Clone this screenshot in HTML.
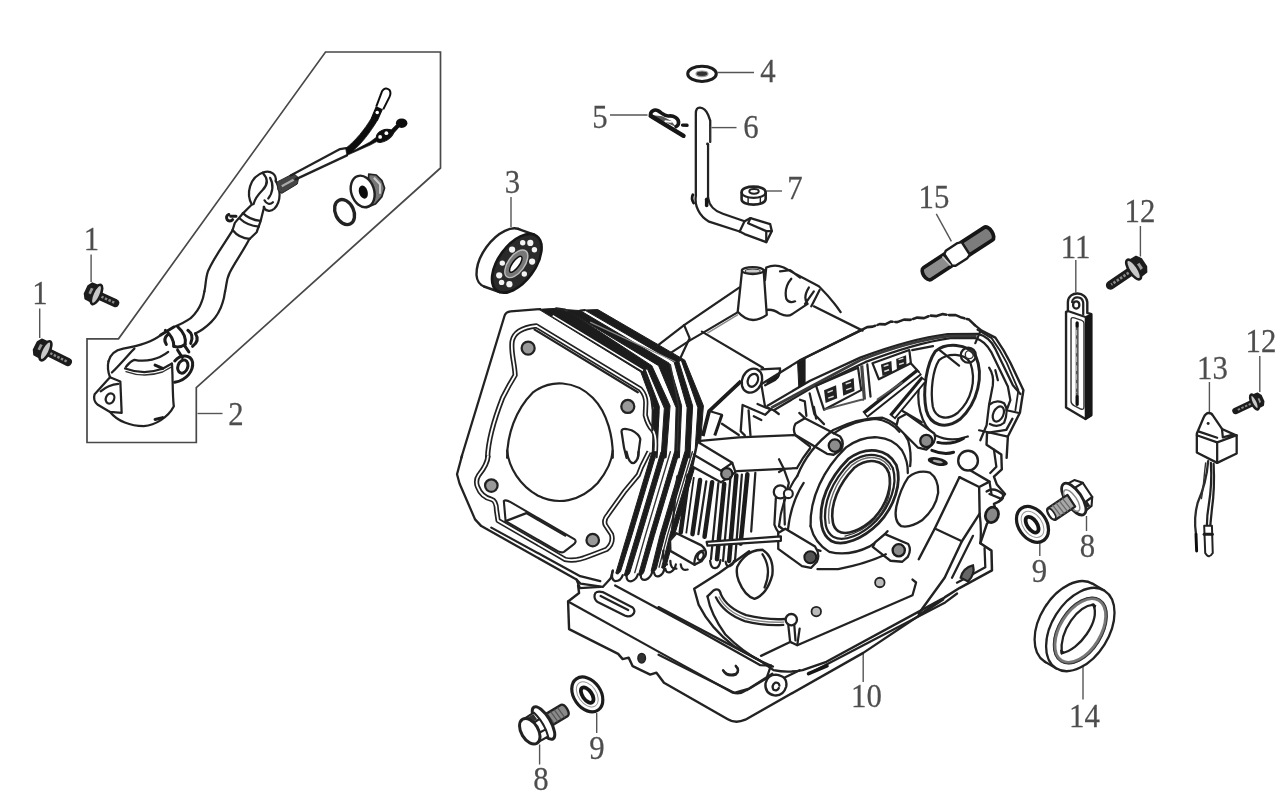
<!DOCTYPE html>
<html><head><meta charset="utf-8"><title>Crankcase diagram</title>
<style>
html,body{margin:0;padding:0;background:#fff;}
body{width:1279px;height:811px;overflow:hidden;font-family:"Liberation Serif",serif;}
svg{display:block;position:absolute;left:0;top:0;}
.l{fill:none;stroke:#222;stroke-width:2.25;stroke-linecap:round;stroke-linejoin:round;vector-effect:non-scaling-stroke;}
.t{fill:none;stroke:#333;stroke-width:1.4;stroke-linecap:round;stroke-linejoin:round;vector-effect:non-scaling-stroke;}
.h{fill:none;stroke:#1a1a1a;stroke-width:3.0;stroke-linecap:round;stroke-linejoin:round;vector-effect:non-scaling-stroke;}
.k{fill:#1c1c1c;stroke:#1c1c1c;stroke-width:1;stroke-linejoin:round;vector-effect:non-scaling-stroke;}
.w{fill:#fff;stroke:#222;stroke-width:2.1;stroke-linecap:round;stroke-linejoin:round;vector-effect:non-scaling-stroke;}
.g{fill:#9a9a9a;stroke:#2a2a2a;stroke-width:1.5;vector-effect:non-scaling-stroke;}
.ld{fill:none;stroke:#555;stroke-width:1.4;stroke-linecap:butt;vector-effect:non-scaling-stroke;}
.n{font-family:"Liberation Serif",serif;font-size:33.5px;fill:#4e4e4e;stroke:#4e4e4e;stroke-width:0.25;text-anchor:middle;}
</style></head><body>
<svg width="1279" height="811" viewBox="0 0 1279 811">
<defs><filter id="b" x="-2%" y="-2%" width="104%" height="104%"><feGaussianBlur stdDeviation="0.74"/></filter></defs>
<g filter="url(#b)">
<!-- 00_labels.frag -->
<g class="n">
<text transform="translate(91.5,249.5) scale(0.92,1)">1</text>
<text transform="translate(40,304) scale(0.92,1)">1</text>
<text transform="translate(236,424.5) scale(0.92,1)">2</text>
<text transform="translate(512.5,192.5) scale(0.92,1)">3</text>
<text transform="translate(768,81.5) scale(0.92,1)">4</text>
<text transform="translate(600,127.5) scale(0.92,1)">5</text>
<text transform="translate(751,138) scale(0.92,1)">6</text>
<text transform="translate(795,198.5) scale(0.92,1)">7</text>
<text transform="translate(934,207.5) scale(0.92,1)">15</text>
<text transform="translate(1075.5,257.5) scale(0.92,1)">11</text>
<text transform="translate(1140,221.5) scale(0.92,1)">12</text>
<text transform="translate(1212.5,378.5) scale(0.92,1)">13</text>
<text transform="translate(1261,352) scale(0.92,1)">12</text>
<text transform="translate(1087.5,556.5) scale(0.92,1)">8</text>
<text transform="translate(1039.5,581.5) scale(0.92,1)">9</text>
<text transform="translate(1084.5,726.5) scale(0.92,1)">14</text>
<text transform="translate(866.5,706.5) scale(0.92,1)">10</text>
<text transform="translate(597,758.5) scale(0.92,1)">9</text>
<text transform="translate(541,789.5) scale(0.92,1)">8</text>
</g>
<g class="ld">
<path d="M91.1 254.5V282"/>
<path d="M39.7 308.5V338"/>
<path d="M197.5 413.5H222.5"/>
<path d="M511 197V227"/>
<path d="M717.5 72.5H754"/>
<path d="M610 115H647.5"/>
<path d="M711.5 127.6H736.5"/>
<path d="M766.5 191H782"/>
<path d="M936.3 213.8L951.4 241.4"/>
<path d="M1075.8 260V292.5"/>
<path d="M1140.4 226V256.5"/>
<path d="M1209.4 382V413.5"/>
<path d="M1259.8 356V392"/>
<path d="M1086.5 516V531"/>
<path d="M1039.8 541V556"/>
<path d="M1083 666V699.5"/>
<path d="M863.2 653V682"/>
<path d="M596.7 713V733"/>
<path d="M539.6 744.5V764.5"/>
</g>

<!-- 10_part2.frag -->
<!-- dashed-box polygon for part 2 -->
<path class="ld" style="stroke:#484848;stroke-width:1.7" d="M87 338.8H118.5L325.5 52H440.5V168L196.3 387.6V442.5H87Z"/>
<!-- tile B: [120,160,360,312] s=5.329 -->
<g transform="translate(120,160) scale(0.18765)">
<path class="l" d="M600 375C560 440 500 520 470 590C455 630 458 665 450 700"/>
<path class="l" d="M690 420C660 480 610 550 585 600C565 640 568 670 560 700"/>
<path class="l" d="M600 373Q635 418 692 420"/>
<path class="l" d="M600 373L612 335L650 290L700 240"/>
<path class="l" d="M692 420L728 385L748 330L768 250"/>
<path class="l" d="M655 283Q690 318 748 325"/>
<path class="l" d="M638 312Q678 350 740 355"/>
<path class="h" d="M618 300H590M580 290A18 18 0 1 0 600 318"/>
<path class="l" d="M703 238C670 180 690 90 765 65C805 52 835 78 830 112"/>
<path class="l" d="M760 68C790 100 790 130 760 160C740 180 720 200 712 235"/>
<path class="l" d="M800 95C820 130 815 175 790 205"/>
<path class="l" d="M830 112C855 150 862 220 822 260C800 280 772 270 766 250"/>
<path class="l" d="M770 215C780 235 800 240 815 225"/>
<path d="M835 118L925 72L952 95L945 128L862 178L842 162Z" fill="#444" stroke="#222" stroke-width="5"/>
<path d="M862 140L925 105" stroke="#aaa" stroke-width="12" fill="none"/>
</g>
<!-- wires tile D: [290,70,450,171] s=7.99 -->
<g transform="translate(290,70) scale(0.12516)">
<path class="l" d="M5 842L400 632L448 625"/>
<path class="l" d="M45 874L455 682"/>
<path d="M445 625C520 570 600 470 650 385L700 400C640 500 570 590 500 650L640 575L700 530L715 560L640 600L455 682Z" fill="#111" stroke="#111" stroke-width="6" stroke-linejoin="round"/>
<path d="M650 385L690 290L740 310L700 400Z" fill="#111" stroke="#111" stroke-width="8" stroke-linejoin="round"/>
<circle cx="697" cy="340" r="14" fill="#fff"/>
<path d="M690 290L735 170Q760 130 795 160Q810 180 795 215L745 315" fill="#fff" stroke="#111" stroke-width="16" stroke-linejoin="round"/>
<path d="M690 530C700 490 760 460 810 480L850 440L870 455L830 500C810 550 740 590 700 575Z" fill="#111" stroke="#111" stroke-width="8" stroke-linejoin="round"/>
<circle cx="720" cy="535" r="15" fill="#fff"/><circle cx="770" cy="505" r="15" fill="#fff"/>
<ellipse cx="892" cy="425" rx="46" ry="38" fill="#111"/>
</g>
<!-- nut + o-ring tile E: [320,160,440,236] s=10.66 -->
<g transform="translate(320,160) scale(0.0938)">
<path d="M520 150L600 160L660 220L688 300L660 390L590 470L500 505Z" fill="#777" stroke="#222" stroke-width="18" stroke-linejoin="round"/>
<path d="M575 190L640 260L640 360" stroke="#ccc" stroke-width="22" fill="none"/>
<ellipse cx="455" cy="335" rx="122" ry="172" transform="rotate(-18 455 335)" fill="#fff" stroke="#222" stroke-width="26"/>
<ellipse cx="462" cy="342" rx="46" ry="72" transform="rotate(-18 462 342)" fill="#111"/>
<ellipse cx="262" cy="555" rx="98" ry="140" transform="rotate(-25 262 555)" fill="none" stroke="#222" stroke-width="36"/>
</g>
<!-- body tile C: [80,290,320,442] s=5.329 -->
<g transform="translate(80,290) scale(0.18765)">
<!-- tube coming from top -->
<path class="l" d="M663 7C655 60 640 105 590 150C560 172 530 185 500 197"/>
<path class="l" d="M773 7C765 70 745 125 700 170C670 200 640 220 615 232"/>
<!-- clamp -->
<path class="h" d="M500 197Q470 215 430 240M615 232Q640 270 600 300"/>
<path class="h" d="M455 215Q500 250 500 300M520 195Q570 240 560 290M470 235Q440 260 460 290M575 215Q610 240 590 285"/>
<path class="h" d="M500 300Q530 310 560 290M520 320L545 360M560 300L580 330"/>
<!-- lower tube to left -->
<path class="l" d="M430 240C380 280 300 300 230 312C190 320 160 345 152 380"/>
<path class="l" d="M470 330C420 370 350 385 290 372C270 380 255 395 245 410"/>
<path class="l" d="M290 312C270 330 230 380 170 440"/>
<!-- can body -->
<path class="l" d="M152 380C145 410 150 440 160 465"/>
<path class="l" d="M240 418Q340 455 440 420L490 392"/>
<path class="t" d="M245 435Q340 470 440 437L488 410"/>
<path class="h" d="M400 400L440 418"/>
<path class="l" d="M490 392C495 450 492 560 500 620C470 680 400 720 340 726C270 725 200 700 160 650"/>
<path class="h" d="M400 690L440 680"/>
<!-- left ear -->
<path class="l" d="M160 465L78 555C70 580 80 600 95 612L160 650L222 655L215 488Z"/>
<path class="l" d="M110 540Q150 505 205 500"/>
<ellipse class="l" cx="160" cy="578" rx="22" ry="28" transform="rotate(25 160 578)"/>
<!-- right ear -->
<path class="h" d="M505 378C540 340 590 345 600 385C605 430 570 480 505 492"/>
<ellipse class="h" cx="548" cy="408" rx="26" ry="36" transform="rotate(20 548 408)"/>
</g>

<!-- 20_bolts.frag -->
<!-- bolt 8 right : flange centre (1073.8,499.1), axis 146deg -->
<g transform="translate(1073.8,499.1) rotate(146.2)">
<path class="w" d="M-1 -16.5L-11 -15.5L-16.5 -8.5V8.5L-11 15.5L-1 16.5Z"/>
<path class="l" d="M-16.5 -8.5L-3 -9M-16.5 8.5L-3 9"/>
<path d="M-10 -15L-4 -14L-4 -9L-10 -9.5Z" fill="#222"/>
<ellipse class="w" cx="0" cy="0" rx="8" ry="18.3" style="stroke-width:2.8"/>
<ellipse class="t" cx="2.5" cy="0" rx="5" ry="12.5" style="stroke:#888"/>
<path d="M3 -7H26.6A3 7 0 0 1 26.6 7H3Z" fill="#a8a8a8" stroke="#222" stroke-width="2.2" stroke-linejoin="round"/>
<path d="M8 -7L9 7M12 -7L13 7M16 -7L17 7M20 -7L21 7" stroke="#666" stroke-width="1.2" fill="none"/>
<ellipse cx="26.6" cy="0" rx="2.6" ry="6" fill="#fff" stroke="#222" stroke-width="1.6"/>
</g>
<!-- washer 9 right -->
<g transform="translate(1032.5,524.4) rotate(-35)">
<ellipse cx="0" cy="0" rx="14" ry="19.5" fill="#fff" stroke="#1c1c1c" stroke-width="3.2"/>
<ellipse cx="0" cy="0" rx="9.5" ry="14.5" fill="none" stroke="#999" stroke-width="1"/>
<ellipse cx="-0.5" cy="0" rx="4.8" ry="9" fill="#fff" stroke="#161616" stroke-width="3.8"/>
</g>
<!-- washer 9 bottom -->
<g transform="translate(587.3,694.4) rotate(-35)">
<ellipse cx="0" cy="0" rx="13.5" ry="19" fill="#fff" stroke="#1c1c1c" stroke-width="3.2"/>
<ellipse cx="0" cy="0" rx="9" ry="14" fill="none" stroke="#999" stroke-width="1"/>
<ellipse cx="-0.5" cy="0.5" rx="4.6" ry="8.8" fill="#fff" stroke="#161616" stroke-width="3.8"/>
</g>
<!-- bolt 8 bottom : flange centre (543.2,723.5), axis -31deg (towards tip) -->
<g transform="translate(543.5,723) rotate(-31)">
<path d="M2 -6.5H24.5A3 6.5 0 0 1 24.5 6.5H2Z" fill="#8a8a8a" stroke="#222" stroke-width="2.4" stroke-linejoin="round"/>
<path d="M8 -6L9 6M12 -6L13 6M16 -6L17 6M20 -6L21 6" stroke="#555" stroke-width="1.2" fill="none"/>
<ellipse class="w" cx="0" cy="0" rx="7" ry="18.5" style="stroke-width:3"/>
<path class="w" d="M-3 -14L-15 -13.5V13.5L-3 14Q1 0 -3 -14Z"/>
<path class="l" d="M-15 -5L-3 -5.5M-15 6L-3 6.5"/>
<path d="M-14 -12.5L-4 -13L-3.5 -6.5L-14 -6Z" fill="#333"/>
<ellipse class="w" cx="-16" cy="0" rx="8.5" ry="14" style="stroke-width:3"/>
</g>

<!-- 21_smallbolts.frag -->
<!-- small bolts -->
<g transform="translate(96.5,294.5) rotate(24.5)">
<path d="M0 0H20.5" stroke="#1c1c1c" stroke-width="8.2" stroke-linecap="round" fill="none"/>
<path d="M5.2 0H19.5" stroke="#8a8a8a" stroke-width="2.5" stroke-dasharray="2.5 1.5" fill="none"/>
<path d="M0 -8.9L-8.4 -8.4L-11.0 -4.2V4.2L-8.4 8.4L0 8.9Z" fill="#1c1c1c" stroke="#1c1c1c" stroke-width="2" stroke-linejoin="round"/>
<path d="M-7.9 -3.7L-3.7 -4.2L-3.7 2.1L-7.9 2.1Z" fill="#999"/>
<ellipse cx="0" cy="0" rx="4.0" ry="10.5" fill="#c8c8c8" stroke="#1c1c1c" stroke-width="2.6"/>
</g>
<g transform="translate(45.5,350.8) rotate(26.6)">
<path d="M0 0H25" stroke="#1c1c1c" stroke-width="8.2" stroke-linecap="round" fill="none"/>
<path d="M5.2 0H24" stroke="#8a8a8a" stroke-width="2.5" stroke-dasharray="2.5 1.5" fill="none"/>
<path d="M0 -8.9L-8.4 -8.4L-11.0 -4.2V4.2L-8.4 8.4L0 8.9Z" fill="#1c1c1c" stroke="#1c1c1c" stroke-width="2" stroke-linejoin="round"/>
<path d="M-7.9 -3.7L-3.7 -4.2L-3.7 2.1L-7.9 2.1Z" fill="#999"/>
<ellipse cx="0" cy="0" rx="4.0" ry="10.5" fill="#c8c8c8" stroke="#1c1c1c" stroke-width="2.6"/>
</g>
<g transform="translate(1133.6,269.5) rotate(146)">
<path d="M0 0H28" stroke="#1c1c1c" stroke-width="9" stroke-linecap="round" fill="none"/>
<path d="M5.8 0H27" stroke="#8a8a8a" stroke-width="2.7" stroke-dasharray="2.5 1.5" fill="none"/>
<path d="M0 -9.8L-9.2 -9.2L-12.1 -4.6V4.6L-9.2 9.2L0 9.8Z" fill="#1c1c1c" stroke="#1c1c1c" stroke-width="2" stroke-linejoin="round"/>
<path d="M-8.6 -4.0L-4.0 -4.6L-4.0 2.3L-8.6 2.3Z" fill="#999"/>
<ellipse cx="0" cy="0" rx="4.4" ry="11.5" fill="#c8c8c8" stroke="#1c1c1c" stroke-width="2.6"/>
</g>
<g transform="translate(1254.5,402) rotate(154.7)">
<path d="M0 0H21" stroke="#1c1c1c" stroke-width="6.5" stroke-linecap="round" fill="none"/>
<path d="M4.0 0H20" stroke="#8a8a8a" stroke-width="1.9" stroke-dasharray="2.5 1.5" fill="none"/>
<path d="M0 -6.8L-6.4 -6.4L-8.4 -3.2V3.2L-6.4 6.4L0 6.8Z" fill="#1c1c1c" stroke="#1c1c1c" stroke-width="2" stroke-linejoin="round"/>
<path d="M-6.0 -2.8L-2.8 -3.2L-2.8 1.6L-6.0 1.6Z" fill="#999"/>
<ellipse cx="0" cy="0" rx="3.0" ry="8.0" fill="#c8c8c8" stroke="#1c1c1c" stroke-width="2.6"/>
</g>

<!-- 30_right_parts.frag -->
<!-- stud 15 -->
<g transform="translate(957.4,253.9) rotate(-33.1)">
<path d="M-36 -7H-11V7H-36A4 7 0 0 1 -36 -7Z" fill="#8c8c8c" stroke="#151515" stroke-width="3.6" stroke-linejoin="round"/>
<path d="M9 -7.5H37A4 7.5 0 0 1 37 7.5H9Z" fill="#7c7c7c" stroke="#151515" stroke-width="3.8" stroke-linejoin="round"/>
<path d="M-11 -7L-8 -9H6L10 -7.5V7.5L6 9H-8L-11 7Z" fill="#fff" stroke="#1c1c1c" stroke-width="2.4" stroke-linejoin="round"/>
<path d="M-14 -6L-12 6" stroke="#ccc" stroke-width="1.6" fill="none"/>
</g>
<!-- part 11 tile: [1030,280,1130,430] s=5.41 -->
<g transform="translate(1030,280) scale(0.18484)">
<path class="w" d="M195 172V690L300 752L332 732V185L310 178V120C305 60 210 55 205 118V168Z" style="stroke-width:2.4"/>
<path d="M300 752V200L332 185V732Z" fill="#151515" stroke="#151515" stroke-width="8" stroke-linejoin="round"/>
<path class="l" d="M300 200L205 168"/>
<path class="l" d="M228 120C230 85 282 85 288 122V185"/>
<ellipse class="l" cx="250" cy="135" rx="17" ry="20"/>
<path class="t" d="M222 215Q222 200 240 205L280 218Q292 222 292 235V685Q292 705 275 698L238 680Q222 672 222 655Z"/>
<path d="M255 232V675" stroke="#555" stroke-width="16" stroke-linecap="round" fill="none"/>
<path d="M255 232V250M255 630V672" stroke="#111" stroke-width="16" stroke-linecap="round" fill="none"/>
<path d="M252 270V610" stroke="#bbb" stroke-width="5" stroke-dasharray="30 18" fill="none"/>
</g>
<!-- part 13 tile: [1170,400,1279,570] s=4.77 -->
<g transform="translate(1170,400) scale(0.20964)">
<path class="w" d="M185 62Q170 62 160 85L128 160V250L225 300L318 255V170L248 138L205 75Q198 62 185 62Z" style="stroke-width:2.3"/>
<path class="l" d="M128 168L225 202V300M225 202L318 168M135 150L160 158L225 180M248 138L252 178L300 165"/>
<circle cx="182" cy="112" r="7" fill="#222"/>
<path d="M182 292C175 380 150 450 132 490C118 540 118 600 124 640" stroke="#2a2a2a" stroke-width="11" fill="none" stroke-linecap="round"/>
<path d="M124 640L127 720" stroke="#111" stroke-width="14" fill="none" stroke-linecap="round"/>
<path class="l" d="M195 300C200 380 195 440 185 500C178 540 176 570 176 600"/>
<path class="l" d="M208 305C212 380 210 450 200 520L192 600"/>
<path class="t" d="M170 300C160 380 160 420 150 470"/>
<path class="w" d="M163 600H200L204 730Q185 760 168 730Z" style="stroke-width:2"/>
<path class="h" d="M163 640H202"/>
</g>

<!-- 31_seal14.frag -->
<!-- seal 14 -->
<g>
<ellipse class="w" cx="1068.8" cy="622.7" rx="28.5" ry="45.7" transform="rotate(32 1068.8 622.7)" style="stroke-width:2.3"/>
<path d="M1056.4 668.5L1044.9 661.7L1092.7 583.7L1104.2 590.5Z" fill="#fff" stroke="none"/>
<path class="l" d="M1056.4 668.5l-11.5 -6.8" style="stroke-width:2.3"/>
<path class="l" d="M1104.2 590.5l-11.5 -6.8" style="stroke-width:2.3"/>
<ellipse class="w" cx="1080.3" cy="629.5" rx="28.5" ry="45.7" transform="rotate(32 1080.3 629.5)" style="stroke-width:2.3"/>
<ellipse cx="1080.3" cy="630.5" rx="20.5" ry="35.5" transform="rotate(32 1080.3 630.5)" fill="none" stroke="#777" stroke-width="3.4"/>
<ellipse cx="1080.3" cy="630.5" rx="22" ry="37" transform="rotate(32 1080.3 630.5)" fill="none" stroke="#333" stroke-width="1"/>
<g transform="translate(1020,570) scale(0.13559)">
<path class="l" d="M542 255C430 265 290 440 308 612" style="stroke-width:2.3"/>
<path class="l" d="M542 255C590 380 440 590 308 612" style="stroke-width:2.3"/>
<path class="k" d="M530 250L560 262L548 285Z"/><path class="k" d="M300 590L330 610L305 622Z"/>
</g>
</g>

<!-- 32_bearing3.frag -->
<!-- bearing 3 -->
<ellipse cx="501.3" cy="257.8" rx="18.3" ry="33.8" transform="rotate(36 501.3 257.8)" fill="#fff" stroke="#222" stroke-width="2.4"/>
<path d="M499.5 292.0l-15.5 -5.5L518.6 229.1l15.5 5.5Z" fill="#fff"/>
<path class="l" d="M499.5 292.0l-15.5 -5.5" style="stroke-width:2.4"/>
<path class="l" d="M534.1 234.6l-15.5 -5.5" style="stroke-width:2.4"/>
<ellipse cx="516.8" cy="263.3" rx="18.3" ry="33.8" transform="rotate(36 516.8 263.3)" fill="#2c2c2c" stroke="#161616" stroke-width="2.6"/>
<ellipse cx="516.3" cy="263.8" rx="8.2" ry="16" transform="rotate(36 516.3 263.8)" fill="#777" stroke="#bbb" stroke-width="1.4"/>
<ellipse cx="515.8" cy="264.3" rx="3.4" ry="9.6" transform="rotate(36 515.8 264.3)" fill="#fff" stroke="#111" stroke-width="1.5"/>
<circle cx="512.1" cy="249.6" r="3.1" fill="#f4f4f4"/>
<circle cx="522.7" cy="242.8" r="2.7" fill="#f4f4f4"/>
<circle cx="530.3" cy="242.9" r="3.1" fill="#f4f4f4"/>
<circle cx="534.4" cy="249.8" r="2.7" fill="#f4f4f4"/>
<circle cx="532.1" cy="261.6" r="3.1" fill="#f4f4f4"/>
<circle cx="524.3" cy="274.0" r="2.7" fill="#f4f4f4"/>
<circle cx="509.4" cy="284.2" r="3.1" fill="#f4f4f4"/>
<circle cx="501.6" cy="282.4" r="2.7" fill="#f4f4f4"/>
<circle cx="499.2" cy="275.3" r="3.1" fill="#f4f4f4"/>
<circle cx="502.3" cy="263.1" r="2.7" fill="#f4f4f4"/>

<!-- 33_top_parts.frag -->
<!-- washer 4 -->
<ellipse cx="702" cy="73.8" rx="14.3" ry="7.6" fill="#fff" stroke="#1c1c1c" stroke-width="3"/>
<ellipse cx="702" cy="73.8" rx="6" ry="2.8" fill="#333" stroke="#999" stroke-width="1.2"/>
<!-- parts 5,6,7 tile [640,95,800,255] s=5.069 -->
<g transform="translate(640,95) scale(0.19728)">
<!-- part 6 rod -->
<path class="l" d="M283 510V95Q283 62 305 64Q330 66 345 100L356 130V238" style="stroke-width:2.3"/>
<path class="l" d="M345 250V520"/>
<path class="t" d="M356 160V240"/>
<circle cx="342" cy="248" r="7" fill="#222"/>
<path class="l" d="M283 510C275 560 300 615 350 642L505 692L530 705L640 746L668 690L660 655L560 624L530 640L420 602C380 590 350 560 345 520" style="stroke-width:2.3"/>
<path class="l" d="M530 640L505 692M560 624L548 650L640 690L668 690M640 690L640 746"/>
<path d="M268 505Q258 525 272 548" stroke="#151515" stroke-width="14" stroke-linecap="round" fill="none"/>
<path d="M338 528V560" stroke="#151515" stroke-width="18" stroke-linecap="round" fill="none"/>
<!-- nut 7 -->
<path class="w" d="M515 492C515 455 635 455 637 492V528C635 565 515 565 515 528Z" style="stroke-width:2.6"/>
<path class="l" d="M515 495C520 530 632 530 637 495" style="stroke-width:2.2"/>
<ellipse cx="578" cy="488" rx="24" ry="12" fill="#fff" stroke="#222" stroke-width="10"/>
<path class="l" d="M548 520V555M610 520V553" style="stroke-width:1.4"/>
</g>
<!-- part 5 clip: [636,100,716,150] s=15.99 -->
<g transform="translate(636,100) scale(0.06254)" fill="none" stroke="#141414" stroke-linecap="round" stroke-linejoin="round">
<path d="M240 240L420 330L640 430L560 330L420 260Z" fill="#555" stroke="none"/>
<path d="M235 255L760 572" stroke-width="70"/>
<path d="M235 250C220 190 290 140 350 170C420 210 450 260 520 255C600 245 690 290 680 370Q675 410 640 425" stroke-width="58"/>
<path d="M745 402L815 405" stroke-width="55"/>
<path d="M470 340L560 350" stroke="#fff" stroke-width="30"/>
</g>

<!-- 50_engine_T1.frag -->
<!-- ENGINE T1: [440,250,760,453] s=3.994 -->
<g transform="translate(440,250) scale(0.25038)">
<!-- front face outer outline -->
<path class="l" d="M85 830L258 262Q263 247 282 245L400 236" style="stroke-width:2.2"/>
<!-- fin bands top-run + down-run -->
<path class="k" d="M395 237L464 233L520 249L846 462L919 622L903 830H883L896 632L828 474L820 478L876 625L866 830H847L855 630L802 487Z"/>
<path class="k" d="M500 238L560 242L915 452L965 622L956 830H937L943 630L873 462Z"/>
<path class="k" d="M578 240L630 238L978 440L1052 622L1036 830H1017L1030 630L964 441L953 443L1009 622L998 830H978L987 630L935 447Z"/>
<path class="l" d="M464 233L500 238M560 242L578 240"/>
<path d="M450 262L812 482" stroke="#fff" stroke-width="1.6" fill="none" vector-effect="non-scaling-stroke"/>
<path d="M600 288L940 446" stroke="#888" stroke-width="1.2" fill="none" vector-effect="non-scaling-stroke"/>
<path class="t" d="M920 458L954 628L946 830"/>
<!-- gasket inner outline -->
<path d="M190 830C192 760 215 680 250 590Q275 540 300 500C298 450 282 410 288 365C295 325 340 308 385 303L800 555Q822 580 822 610L820 660Q830 700 850 720Q868 745 858 830" fill="none" stroke="#222" stroke-width="5.2" stroke-linejoin="round" vector-effect="non-scaling-stroke"/>
<path d="M190 830C192 760 215 680 250 590Q275 540 300 500C298 450 282 410 288 365C295 325 340 308 385 303L800 555Q822 580 822 610L820 660Q830 700 850 720Q868 745 858 830" fill="none" stroke="#fff" stroke-width="1.8" stroke-linejoin="round" vector-effect="non-scaling-stroke"/>
<path class="l" d="M378 318L790 568"/>
<path class="l" d="M815 482L840 560L850 640L848 720"/>
<path class="k" d="M852 640L874 645L872 705L852 700Z"/>
<!-- bolt holes -->
<circle cx="352" cy="392" r="26" fill="#999" stroke="#222" stroke-width="9"/>
<circle cx="750" cy="625" r="26" fill="#999" stroke="#222" stroke-width="9"/>
<!-- bore -->
<path class="l" d="M268 830C268 740 300 640 370 570C440 515 540 520 610 590C670 650 692 750 690 830" style="stroke-width:2.2"/>
<!-- triangle pocket -->
<path class="l" d="M745 830L735 790L725 725Q725 712 745 715L765 720Q795 735 800 755L790 830"/>
<!-- crankcase top: rail -->
<path class="l" d="M865 385L975 300L1195 150"/>
<path class="l" d="M920 412L1000 360L1060 325L1195 245"/>
<path d="M1068 332L1190 258" stroke="#888" stroke-width="1.4" fill="none" vector-effect="non-scaling-stroke"/>
<path class="l" d="M975 300L997 352L955 442M1046 326L1290 470"/>
<!-- filler tube boss -->
</g>

<!-- 51_engine_T2.frag -->
<!-- ENGINE T2: [760,250,1080,453] s=3.994 -->
<g transform="translate(760,250) scale(0.25038)">
<!-- breather / top-left shape -->
<path class="l" d="M20 120L25 70Q60 55 95 70L150 100L235 145M80 85L120 80L160 110M235 145Q290 200 322 248"/>
<path class="l" d="M-5 250Q40 225 80 255Q110 270 130 255L190 215M195 150Q170 190 190 215M180 215L215 165M205 225L238 160"/>
<path class="l" d="M125 115Q95 150 105 195Q115 215 140 205M20 80Q0 110 5 150"/>
<path class="l" d="M215 225L410 322"/>
<path class="w" d="M-72 84L-89 247Q-37 305 27 259L15 88Z" style="stroke-width:2.3"/>
<ellipse class="w" cx="-29" cy="82" rx="43.5" ry="14" style="stroke-width:2.3"/>
<ellipse cx="-29" cy="84" rx="30" ry="8" fill="#ccc" stroke="#333" stroke-width="4"/>
<!-- top outline (jagged) -->
<path class="l" d="M-10 545L160 440L400 322" style="stroke-width:2.3"/>
<path class="l" d="M400 322L428 308L450 306L478 296L500 297L522 286L548 288L575 278L600 279L628 270L655 272L680 262L705 264L730 256L756 260L782 260L805 270L835 278L858 300" style="stroke-width:2.6" stroke-dasharray="16 2.5"/>
<path class="l" d="M858 300L885 322L940 350Q975 400 1000 450L1052 560L1038 650L990 745L985 830" style="stroke-width:2.4"/>
<path class="l" d="M868 318L925 352Q960 400 985 450L1032 560L1020 640" style="stroke-width:1.8"/>
<!-- gasket flange lines -->
<path class="l" d="M30 622L200 522L400 430Q600 355 750 336L870 335Q915 345 940 395L1010 540L1040 575" style="stroke-width:2.3"/>
<path class="l" d="M55 640L210 548L420 448Q620 372 760 352L860 352Q898 362 925 410L990 545L1000 600L985 640L1030 650"/>
<path class="l" d="M-10 615L20 628L55 640L75 655"/>
<path d="M45 630L400 440Q600 362 755 344L865 343" stroke="#3a3a3a" stroke-width="11" fill="none"/>
<!-- dark web -->
<path class="k" d="M150 445L180 430V535L155 548Z"/>
<path class="l" d="M160 440L400 322"/>
<!-- oval opening -->
<path class="l" d="M700 405C740 370 830 370 862 425C895 500 870 610 800 675C740 720 680 700 664 640C648 560 665 455 700 405Z" style="stroke-width:3"/>
<path class="l" d="M715 440C750 410 815 410 840 450C865 520 845 600 790 650C745 685 700 670 690 625C680 560 690 480 715 440Z" />
<path class="l" d="M640 520C620 600 640 700 700 740Q760 770 830 745"/>
<!-- small boss with pointer -->
<circle class="l" cx="832" cy="420" r="30"/>
<circle class="t" cx="836" cy="418" r="16"/>
<path class="l" d="M715 398L795 462M860 372L880 325"/>
<!-- right bosses -->
<path class="l" d="M915 618Q945 595 975 612Q995 640 975 690Q950 712 918 695"/>
<ellipse class="l" cx="952" cy="655" rx="20" ry="32" transform="rotate(25 952 655)"/>
<path class="l" d="M915 470Q935 500 930 540L915 618L905 700L880 760"/>
<path class="l" d="M940 480L950 520M875 720L990 745"/>
</g>

<!-- 52_engine_T3.frag -->
<!-- ENGINE T3: [440,453,760,656] s=3.994 -->
<g transform="translate(440,453) scale(0.25038)">
<!-- front face outer outline: left + bottom -->
<path class="l" d="M88 10L68 85L78 122L140 265L165 292L545 505L562 522L650 535L682 500" style="stroke-width:2.3"/>
<path class="l" d="M205 298L560 492L640 512"/>
<!-- inner gasket outline -->
<path d="M192 10Q190 45 155 88Q140 110 150 135Q165 175 205 185Q225 190 226 230L232 270L500 425Q540 435 600 410L665 385Q695 360 685 325L662 290Q650 270 672 245L740 150L792 88L805 55L835 -5" fill="none" stroke="#222" stroke-width="5.2" stroke-linejoin="round" vector-effect="non-scaling-stroke"/>
<path d="M192 10Q190 45 155 88Q140 110 150 135Q165 175 205 185Q225 190 226 230L232 270L500 425Q540 435 600 410L665 385Q695 360 685 325L662 290Q650 270 672 245L740 150L792 88L805 55L835 -5" fill="none" stroke="#fff" stroke-width="1.8" stroke-linejoin="round" vector-effect="non-scaling-stroke"/>
<!-- bolt holes -->
<circle cx="205" cy="130" r="25" fill="#999" stroke="#222" stroke-width="9"/>
<circle cx="610" cy="348" r="25" fill="#999" stroke="#222" stroke-width="9"/>
<!-- bore bottom -->
<path class="l" d="M268 -10C275 60 320 130 390 170C470 210 560 195 630 120C670 70 688 20 690 -10" style="stroke-width:2.2"/>
<!-- slot window -->
<path class="l" d="M255 192Q262 185 282 196L538 345Q548 355 530 368L495 395Q485 400 470 392L262 272Z" style="stroke-width:2.1"/>
<path class="l" d="M262 272L345 240M345 240L500 330"/>
<!-- triangle pocket continuation -->
<path class="l" d="M745 -5Q755 45 775 40Q795 25 793 -5"/>
<!-- cylinder fins down-run (dark strips) -->
<path class="k" d="M847 -5H866L766 330L722 470Q712 490 702 480L747 330Z"/>
<path class="k" d="M883 -5H903L803 330L758 478Q748 498 736 488L783 330Z"/>
<path class="k" d="M937 -5H956L856 330L814 476Q804 496 793 486L837 330Z"/>
<path class="k" d="M978 -5H998L898 330L864 462Q854 482 843 472L878 330Z"/>
<path class="k" d="M1017 -5H1036L936 330L904 448Q895 466 885 458L917 330Z"/>
<path class="t" d="M920 -5L820 330L778 478M1008 -5L908 330L875 456"/>
<path class="l" d="M690 470Q680 505 700 512Q722 512 730 488M745 492Q745 515 765 512Q785 505 790 485M802 490Q802 510 822 506Q842 498 848 474M855 478Q858 496 875 492Q892 484 896 462M900 462Q902 480 920 476Q938 468 942 445"/>
<path class="l" d="M682 500L690 470"/>
<!-- base plate (top bit only) -->
<path class="l" d="M545 505L557 535M558 540L640 535" style="stroke-width:2.3"/>
</g>

<!-- 54_engine_T5.frag -->
<!-- ENGINE T5': [520,570,840,773] s=3.994 -->
<g transform="translate(520,570) scale(0.25038)">
<!-- base plate outline -->
<path class="l" d="M232 62L236 92L192 126L196 236L392 335L410 356L434 350L450 384L520 418L545 410L575 450L830 596Q860 615 900 598L1371 331L1690 118" style="stroke-width:2.4"/>
<path class="l" d="M192 126L560 330L850 490Q880 498 905 480L985 432L1002 382"/>
<path class="l" d="M380 62L700 235L960 380L1002 382"/>
<!-- slot -->
<path class="l" d="M298 100Q300 82 330 88L450 150Q465 165 448 180Q435 190 418 182L310 128Q295 118 298 100Z"/>
<path class="l" d="M322 104L432 160"/>
<!-- hole + hook -->
<ellipse cx="486" cy="352" rx="15" ry="19" fill="#333" stroke="#222" stroke-width="6"/>
<path class="l" d="M812 402Q830 425 862 415Q880 400 862 385"/>
</g>

<!-- 55_engine_TC.frag -->
<!-- ENGINE TC: [660,360,900,512] s=5.329 -->
<g transform="translate(660,360) scale(0.18765)">
<!-- dark struts behind -->
<path d="M228 405L262 272L432 112" stroke="#1a1a1a" stroke-width="20" fill="none" stroke-linejoin="round"/>
<path d="M292 402L330 292" stroke="#1a1a1a" stroke-width="16" fill="none"/>
<path class="l" d="M330 340L420 400M262 272L330 292"/>
<!-- boss with hole + tube -->
<ellipse class="w" cx="490" cy="110" rx="52" ry="66" transform="rotate(25 490 110)" style="stroke-width:2.4"/>
<ellipse class="l" cx="495" cy="108" rx="26" ry="36" transform="rotate(25 495 108)"/>
<path class="l" d="M540 50L640 45M560 135L615 105Q640 85 640 45"/>
<path class="h" d="M575 120L625 90"/>
<!-- notch shape -->
<path class="l" d="M440 240L560 292L592 262M440 240L430 380L452 402M472 268L482 400M500 300L540 320" style="stroke-width:2.3"/>
<path class="l" d="M540 130L560 250L592 262"/>
<!-- horizontal arm -->
<path class="l" d="M200 432L420 412L720 400M410 592L730 576" style="stroke-width:2.3"/>
<path class="w" d="M200 436L385 548L402 598L325 652L172 568Z" style="stroke-width:2.3"/>
<path class="l" d="M385 548L325 590L180 505"/>
<circle cx="356" cy="606" r="30" fill="#8c8c8c" stroke="#1c1c1c" stroke-width="12"/>
<!-- upper right boss -->
<path class="w" d="M722 340L772 310L960 408Q985 440 965 480L925 505L890 500L722 400Q705 370 722 340Z" style="stroke-width:2.3"/>
<circle cx="932" cy="456" r="33" fill="#8c8c8c" stroke="#1c1c1c" stroke-width="12"/>
<path class="l" d="M820 250L832 312M772 310L742 282"/>
<!-- arm joins bearing boss -->
<path class="l" d="M720 400L800 462M730 576Q760 520 800 470"/>
</g>

<!-- 56_engine_TB.frag -->
<!-- ENGINE TB (bearing): [780,400,980,560] s=5.07 -->
<g transform="translate(780,400) scale(0.19724)">
<!-- outer boss cylinder surface -->
<path class="l" d="M88 385Q140 250 270 152Q400 90 520 90Q610 120 650 205Q668 270 660 335" style="stroke-width:2.3"/>
<path class="l" d="M-5 640Q10 490 88 385M40 660Q55 520 120 420"/>
<!-- ring 3 (boss face) -->
<path class="l" d="M155 640C150 500 220 350 335 240C440 165 560 175 618 255Q650 310 648 370" style="stroke-width:2.3"/>
<path class="l" d="M155 640Q175 725 250 770Q350 795 455 742Q510 705 545 665" style="stroke-width:2.3"/>
<!-- ring 2 double -->
<path class="l" d="M212 640C190 520 250 395 345 300C440 230 545 245 590 330C620 420 580 540 500 625C420 705 320 745 260 715Q222 690 212 640Z" style="stroke-width:2.8"/>
<path class="l" d="M232 635C212 525 268 405 355 318C440 255 535 268 572 345C598 425 560 535 488 612C415 685 325 722 272 695Q240 675 232 635Z"/>
<!-- bore inner double -->
<path class="l" d="M268 620C252 530 298 425 375 345C445 290 525 300 552 370C570 440 540 530 478 598C415 660 335 690 295 665Q272 648 268 620Z" style="stroke-width:2.6"/>
<path d="M250 628C232 528 282 412 365 330C440 272 528 280 562 355" stroke="#666" stroke-width="7" fill="none"/>
<path class="t" d="M330 690Q420 670 500 590Q565 510 560 400"/>
<!-- oval window -->
<path class="l" d="M650 392Q700 352 760 368Q805 400 802 470Q790 550 720 610Q660 650 615 640Q575 615 590 540Q610 450 650 392Z" style="stroke-width:2.3"/>
<!-- top-right boss -->
<path class="w" d="M600 92L642 70L782 170Q795 200 770 228L742 252L700 242L590 132Z" style="stroke-width:2.3"/>
<circle cx="742" cy="208" r="31" fill="#8c8c8c" stroke="#1c1c1c" stroke-width="12"/>
<!-- bottom boss -->
<path class="w" d="M482 722L532 680L650 730Q668 760 648 795L620 820L560 815L470 745Z" style="stroke-width:2.3"/>
<circle cx="602" cy="762" r="31" fill="#8c8c8c" stroke="#1c1c1c" stroke-width="12"/>
<!-- bottom-left boss -->
<path class="l" d="M-5 640L130 742L205 765M-5 720L95 800" style="stroke-width:2.3"/>
<circle cx="152" cy="782" r="31" fill="#8c8c8c" stroke="#1c1c1c" stroke-width="12"/>
<!-- right details -->
<ellipse cx="800" cy="312" rx="52" ry="20" transform="rotate(12 800 312)" fill="#1c1c1c"/>
<ellipse cx="800" cy="312" rx="26" ry="7" transform="rotate(12 800 312)" fill="#aaa"/>
<path class="h" d="M770 255Q830 280 880 265M800 215Q870 230 930 195"/>
<!-- left details -->
<path class="l" d="M-5 365L20 350L45 420L30 480L-5 490M20 350L-5 300"/>
</g>

<!-- 57_engine_TL.frag -->
<!-- ENGINE TL (lower): [660,480,1040,720] s=3.366 -->
<g transform="translate(660,480) scale(0.29709)">
<!-- knob -->
<circle class="w" cx="405" cy="40" r="22" style="stroke-width:2.3"/>
<circle class="w" cx="432" cy="46" r="15"/>
<path class="l" d="M390 60L385 150Q395 180 420 195L480 240"/>
<path class="l" d="M418 68L420 150"/>
<!-- boss -->
<path class="w" d="M398 178L422 164L522 224Q540 250 528 275L508 296L478 290L398 232Z" style="stroke-width:2.3"/>
<circle cx="506" cy="260" r="20" fill="#555" stroke="#1c1c1c" stroke-width="7"/>
<!-- rod to boss -->
<!-- recess -->
<path class="l" d="M260 292Q290 235 345 235Q385 260 378 320Q360 385 318 400Q285 390 265 340Q255 315 260 292Z" style="stroke-width:2.4"/>
<path class="l" d="M345 250Q378 300 352 362"/>
<!-- crankcase outline lower-left -->
<path class="l" d="M300 240L200 312L115 366L130 420Q170 500 250 560L340 610L380 628" style="stroke-width:2.4"/>
<path class="l" d="M160 392L180 372Q200 360 205 385Q225 430 290 455Q360 472 420 468" style="stroke-width:2.4"/>
<path class="l" d="M188 395Q215 450 285 475Q350 492 415 488"/>
<path d="M198 392Q222 442 290 466Q355 482 418 478" stroke="#888" stroke-width="5" fill="none"/>
<path class="l" d="M160 392Q170 450 220 520Q280 580 340 610"/>
<circle class="w" cx="442" cy="470" r="19" style="stroke-width:2.3"/>
<path class="l" d="M432 490L438 545M452 488L456 540"/>
<!-- flat face -->
<path class="l" d="M340 592L438 545L462 556L850 388L862 345L850 335" style="stroke-width:2.3"/>
<path class="l" d="M462 556L470 500M530 300L600 300Q700 280 760 250"/>
<circle cx="740" cy="345" r="16" fill="#bbb" stroke="#222" stroke-width="6"/>
<circle cx="526" cy="443" r="16" fill="#bbb" stroke="#222" stroke-width="6"/>
<!-- base top long diagonals -->
<path class="l" d="M-5 428L340 610L382 640Q430 650 480 640L560 612L950 400" style="stroke-width:2.4"/>
<path class="l" d="M520 642L960 412L1000 382"/>
<path d="M500 652L562 626" stroke="#151515" stroke-width="12" fill="none" stroke-linecap="round"/>
<!-- plate + roll pin -->
<path class="l" d="M-5 588L250 716L300 702L378 652"/>
<path class="w" d="M390 655Q430 660 425 695Q415 728 385 725Q352 718 355 685Q362 655 390 655Z" style="stroke-width:2.4"/>
<path class="l" d="M400 700Q395 712 382 706Q374 692 388 682Q400 680 402 692"/>
<path class="l" d="M420 665L470 640"/>
<path class="l" d="M212 640Q225 665 255 655Q270 640 255 625"/>
</g>

<!-- 58_engine_TS.frag -->
<!-- ENGINE TS (side fins): [660,440,780,580] s=5.79 -->
<g transform="translate(660,440) scale(0.17271)">
<g fill="none" stroke="#1a1a1a" stroke-width="26" stroke-linecap="round">
<path d="M165 205L120 535"/>
<path d="M232 232L188 545"/>
<path d="M302 245L258 560"/>
<path d="M372 255L330 690"/>
<path d="M442 205L400 700"/>
<path d="M506 198L467 600"/>
</g>
<path d="M196 215L152 540" stroke="#1a1a1a" stroke-width="10" fill="none"/>
<path class="l" d="M552 190L528 530M100 210L70 520M268 240L222 545M338 250L295 690M408 215L365 700M474 200L435 690M290 700Q295 745 320 742Q345 738 350 695M380 705Q385 735 405 730Q425 722 428 700"/>
<!-- rod -->
<path class="w" d="M270 590L700 558V584L275 612Z" style="stroke-width:2.2"/>
<!-- lower block -->
<path class="w" d="M95 540L240 610Q275 640 262 672L240 702L200 722L60 642L58 582Z" style="stroke-width:2.4"/>
<path class="l" d="M200 722Q195 690 215 660Q230 640 252 640"/>
<ellipse class="l" cx="235" cy="672" rx="16" ry="24" transform="rotate(25 235 672)"/>
<!-- scallops near bottom left -->
<path class="l" d="M20 640Q10 700 40 720M60 700Q60 750 95 745M120 720Q125 760 160 750"/>
</g>

<!-- 59_engine_TW.frag -->
<!-- ENGINE TW (windows/ribs): [800,310,960,440] s=6.24 -->
<g transform="translate(800,310) scale(0.16026)">
<!-- window 1 -->
<path class="l" d="M100 472L362 360L382 500L150 622Z" style="stroke-width:2.2"/>
<path d="M150 500L225 470L232 550L160 580Z" fill="#222"/><path d="M262 455L335 425L340 505L270 535Z" fill="#222"/>
<path d="M172 515L205 502M176 550L210 538M285 462L318 450M288 498L322 486" stroke="#ddd" stroke-width="9" fill="none"/>
<path d="M150 622L382 560L400 560" stroke="#555" stroke-width="12" fill="none"/>
<!-- web between windows -->
<path d="M385 345L402 560" stroke="#444" stroke-width="20" fill="none"/>
<path class="l" d="M420 340L440 540"/>
<!-- window 2 -->
<path class="l" d="M452 332L682 250L692 332L492 432Z" style="stroke-width:2.2"/>
<path d="M505 340L570 318L575 390L515 412Z" fill="#222"/><path d="M600 305L662 283L665 350L605 374Z" fill="#222"/>
<path d="M522 352L552 342M526 384L556 373M615 310L645 300M618 340L648 330" stroke="#ddd" stroke-width="9" fill="none"/>
<!-- ribs: white bars with dark borders -->
<path d="M745 385L405 655" stroke="#1c1c1c" stroke-width="50" fill="none"/>
<path d="M742 392L415 652" stroke="#fff" stroke-width="17" fill="none"/>
<path d="M775 428L575 668" stroke="#1c1c1c" stroke-width="48" fill="none"/>
<path d="M772 438L585 662" stroke="#fff" stroke-width="16" fill="none"/>
<path class="l" d="M700 250L830 225M640 630L760 700M690 330L740 385"/>
<path d="M480 560L640 450" stroke="#555" stroke-width="12" fill="none"/>
<!-- lower arcs -->
<path class="l" d="M210 770Q330 690 470 680Q560 690 620 760" style="stroke-width:2.3"/>
<path class="l" d="M60 520L90 650L150 712M0 560L30 570L40 660"/>
</g>

<!-- 60_engine_TR.frag -->
<!-- ENGINE TR (right column/foot): [920,420,1040,620] s=4.058 -->
<g transform="translate(920,420) scale(0.24643)">
<!-- jagged right edge -->
<path class="l" d="M375 -5L350 40L272 52L270 100L330 140L332 200L300 230L312 262L345 300L322 330L300 340L312 380L272 420L245 500" style="stroke-width:2.4"/>
<path class="l" d="M300 120L310 190L285 215"/>
<!-- knob circle -->
<circle class="w" cx="195" cy="165" r="40" style="stroke-width:2.4"/>
<!-- column -->
<path class="l" d="M160 232L60 440L-5 565" style="stroke-width:2.4"/>
<path class="l" d="M160 232L240 272L282 250L205 205M240 272L242 380L170 492L100 640L-5 785" style="stroke-width:2.4"/>
<path class="l" d="M60 440L170 492M282 250L290 300"/>
<!-- small lug + bolt hole -->
<path class="l" d="M270 290Q300 270 335 300Q345 320 320 330"/>
<path class="l" d="M282 300L325 318"/>
<ellipse cx="292" cy="385" rx="26" ry="32" transform="rotate(20 292 385)" fill="#888" stroke="#1c1c1c" stroke-width="11"/>
<!-- foot -->
<path class="l" d="M245 500L290 530L292 610L160 682L100 720L-5 792" style="stroke-width:2.5"/>
<path class="l" d="M262 520L265 598L150 660"/>
<path d="M165 640Q175 600 215 590Q225 625 195 655Z" fill="#666" stroke="#222" stroke-width="9"/>
<path class="l" d="M242 380Q250 440 245 500M215 470L130 640"/>
</g>


</g>
</svg>
</body></html>
